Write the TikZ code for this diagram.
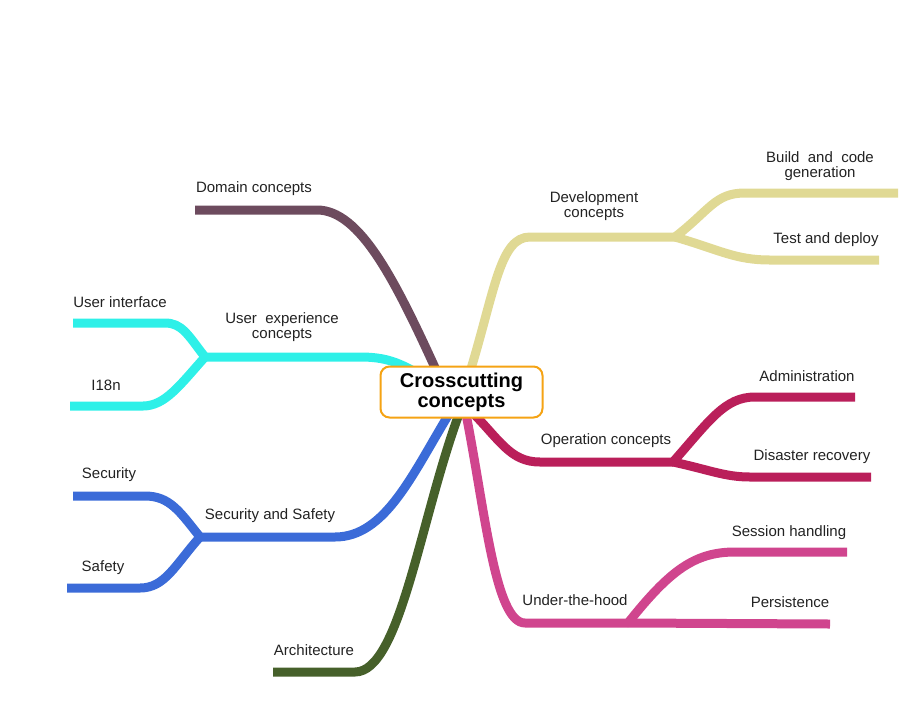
\documentclass[tikz,border=0pt]{standalone}
\usepackage{fontspec}
\setmainfont{Liberation Sans}
\usetikzlibrary{backgrounds}
\definecolor{cDom}{RGB}{109,75,94}
\definecolor{cDev}{RGB}{224,217,148}
\definecolor{cUx}{RGB}{46,240,232}
\definecolor{cSec}{RGB}{59,107,216}
\definecolor{cArc}{RGB}{70,96,42}
\definecolor{cOps}{RGB}{186,31,90}
\definecolor{cHood}{RGB}{208,69,142}
\definecolor{cOrange}{RGB}{245,163,20}
\definecolor{cText}{RGB}{34,34,34}
\tikzset{
  branch/.style={line width=9pt, line cap=butt, line join=round},
  lbl/.style={text=cText, font=\fontsize{15}{15}\selectfont, align=center, inner sep=0pt, yshift=-1.5pt},
  rootbox/.style={draw=cOrange, line width=2pt, fill=white, rounded corners=9pt,
    minimum width=162pt, minimum height=51pt, align=center,
    font=\fontsize{20}{20}\selectfont\bfseries, inner sep=0pt}
}
\begin{document}
\begin{tikzpicture}[x=1pt,y=-1pt]
\useasboundingbox (0,0) rectangle (923,702);
\node[rootbox] (root) at (461.5,392) {Crosscutting\\concepts};
% coordinates
\coordinate (dom0) at (437,372);
\coordinate (dom1) at (317,210);
\coordinate (dom2) at (195,210);
\coordinate (dev0) at (470,372);
\coordinate (dev1) at (530,237);
\coordinate (dev2) at (675,237);
\coordinate (bld1) at (745,193);
\coordinate (bld2) at (898,193);
\coordinate (tst1) at (770,260);
\coordinate (tst2) at (879,260);
\coordinate (ux0) at (425,378);
\coordinate (ux1) at (360,357);
\coordinate (ux2) at (205,357);
\coordinate (ui1) at (165,323);
\coordinate (ui2) at (73,323);
\coordinate (i18n1) at (143,406);
\coordinate (i18n2) at (70,406);
\coordinate (sec0) at (449,414);
\coordinate (sec1) at (335,537);
\coordinate (sec2) at (200,537);
\coordinate (secu1) at (145,496);
\coordinate (secu2) at (73,496);
\coordinate (saf1) at (140,588);
\coordinate (saf2) at (67,588);
\coordinate (arc0) at (459,414);
\coordinate (arc1) at (355,672);
\coordinate (arc2) at (273,672);
\coordinate (ops0) at (470,410);
\coordinate (ops1) at (540,462);
\coordinate (ops2) at (673,462);
\coordinate (adm1) at (755,397);
\coordinate (adm2) at (855,397);
\coordinate (dis1) at (750,477);
\coordinate (dis2) at (871,477);
\coordinate (hood0) at (466,414);
\coordinate (hood1) at (525,623);
\coordinate (hood2) at (628,623);
\coordinate (ses1) at (735,552);
\coordinate (ses2) at (847,552);
\coordinate (per2) at (830,624);
\begin{scope}[on background layer]
\draw[branch, cDom] (dom0) .. controls (395,280) and (360,210) .. (dom1) -- (dom2);
\draw[branch, cDev] (dev0) .. controls (495,290) and (500,237) .. (dev1) -- (dev2);
\draw[branch, cDev] (dev2) .. controls (710,210) and (715,193) .. (bld1) -- (bld2);
\draw[branch, cDev] (dev2) .. controls (720,250) and (735,260) .. (tst1) -- (tst2);
\draw[branch, cUx] (ux0) .. controls (400,362) and (385,357) .. (ux1) -- (ux2);
\draw[branch, cUx] (ux2) .. controls (188,335) and (182,323) .. (ui1) -- (ui2);
\draw[branch, cUx] (ux2) .. controls (180,385) and (165,406) .. (i18n1) -- (i18n2);
\draw[branch, cSec] (sec0) .. controls (412,475) and (385,537) .. (sec1) -- (sec2);
\draw[branch, cSec] (sec2) .. controls (180,512) and (170,496) .. (secu1) -- (secu2);
\draw[branch, cSec] (sec2) .. controls (175,565) and (165,588) .. (saf1) -- (saf2);
\draw[branch, cArc] (arc0) .. controls (420,520) and (400,672) .. (arc1) -- (arc2);
\draw[branch, cHood] (hood0) .. controls (485,510) and (495,623) .. (hood1) -- (hood2);
\draw[branch, cHood] (hood2) .. controls (670,570) and (695,552) .. (ses1) -- (ses2);
\draw[branch, cHood] (hood2) -- (per2);
\draw[branch, cOps] (ops0) .. controls (500,440) and (510,462) .. (ops1) -- (ops2);
\draw[branch, cOps] (ops2) .. controls (710,420) and (725,397) .. (adm1) -- (adm2);
\draw[branch, cOps] (ops2) .. controls (710,470) and (725,477) .. (dis1) -- (dis2);
\end{scope}
% labels
\node[lbl] (lDom) at (254,187) {Domain concepts};
\node[lbl] (lDev) at (594,205) {Development\\concepts};
\node[lbl] (lBld) at (820,165) {Build\ \ and\ \ code\\generation};
\node[lbl] (lTst) at (826,238) {Test and deploy};
\node[lbl] (lUx) at (282,326) {User\ \ experience\\concepts};
\node[lbl] (lUi) at (120,301) {User interface};
\node[lbl] (lI18n) at (106,384) {I18n};
\node[lbl] (lSec) at (270,514) {Security and Safety};
\node[lbl] (lSecu) at (109,473) {Security};
\node[lbl] (lSaf) at (103,566) {Safety};
\node[lbl] (lArc) at (314,649) {Architecture};
\node[lbl] (lOps) at (606,439) {Operation concepts};
\node[lbl] (lAdm) at (807,375) {Administration};
\node[lbl] (lDis) at (812,455) {Disaster recovery};
\node[lbl] (lHood) at (575,599) {Under-the-hood};
\node[lbl] (lSes) at (789,531) {Session handling};
\node[lbl] (lPer) at (790,601) {Persistence};
\end{tikzpicture}
\end{document}
